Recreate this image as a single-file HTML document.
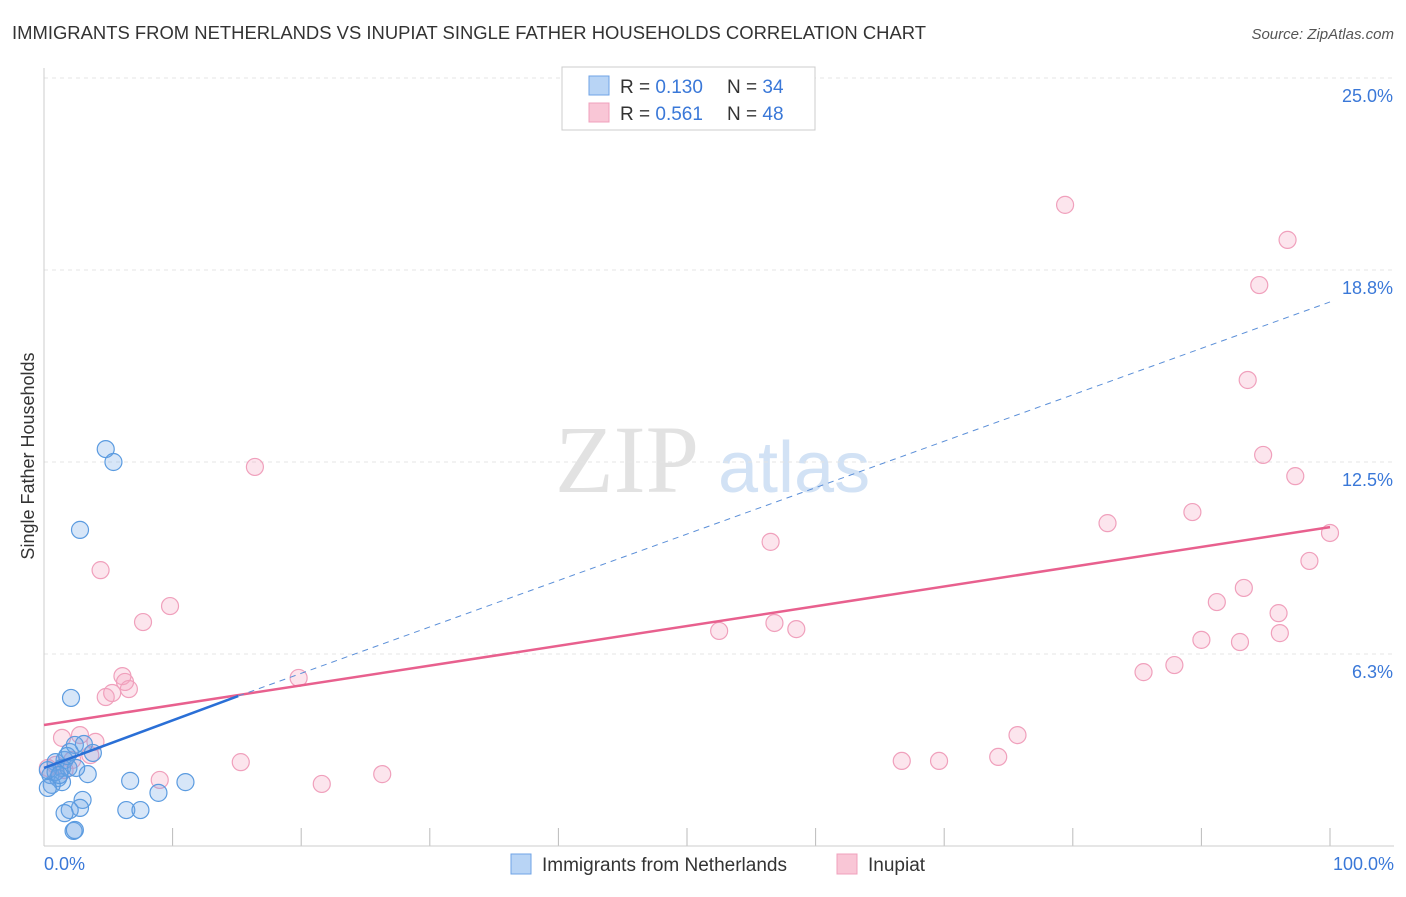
<!DOCTYPE html>
<html><head><meta charset="utf-8"><style>
body{margin:0;background:#fff;font-family:"Liberation Sans",sans-serif;}
</style></head><body>
<svg id="chart" width="1406" height="892" xmlns="http://www.w3.org/2000/svg">
<text x="12" y="39" font-size="18" fill="#333" textLength="914" lengthAdjust="spacingAndGlyphs">IMMIGRANTS FROM NETHERLANDS VS INUPIAT SINGLE FATHER HOUSEHOLDS CORRELATION CHART</text>
<text x="1394" y="39" font-size="15" fill="#555" font-style="italic" text-anchor="end">Source: ZipAtlas.com</text>
<text x="555" y="492" font-size="96" fill="#e2e2e2" font-family="Liberation Serif,serif">ZIP</text>
<text x="718" y="492" font-size="72" fill="#d2e2f5">atlas</text>
<g id="grid"></g>
<line x1="44" y1="68" x2="44" y2="846" stroke="#ccc"/>
<line x1="44" y1="846" x2="1394" y2="846" stroke="#ccc"/>
<text x="34" y="456" font-size="18" fill="#333" text-anchor="middle" transform="rotate(-90 34 456)">Single Father Households</text>
<text x="44" y="870" font-size="18" fill="#3a78d8">0.0%</text>
<text x="1394" y="870" font-size="18" fill="#3a78d8" text-anchor="end">100.0%</text>
<g id="pts"></g>
<g id="trends"></g>
<g>
<rect x="562" y="67" width="253" height="63" fill="#fff" stroke="#ccc"/>
<rect x="589" y="76" width="20" height="19" fill="#b8d4f5" stroke="#6fa3e6"/>
<rect x="589" y="103" width="20" height="19" fill="#f9c6d6" stroke="#f0a0bc"/>
<text x="620" y="93" font-size="19" fill="#333">R = <tspan fill="#3a78d8">0.130</tspan></text>
<text x="727" y="93" font-size="19" fill="#333">N = <tspan fill="#3a78d8">34</tspan></text>
<text x="620" y="120" font-size="19" fill="#333">R = <tspan fill="#3a78d8">0.561</tspan></text>
<text x="727" y="120" font-size="19" fill="#333">N = <tspan fill="#3a78d8">48</tspan></text>
</g>
<g>
<rect x="511" y="854" width="20" height="20" fill="#b8d4f5" stroke="#6fa3e6"/>
<text x="542" y="871" font-size="19" fill="#333">Immigrants from Netherlands</text>
<rect x="837" y="854" width="20" height="20" fill="#f9c6d6" stroke="#f0a0bc"/>
<text x="868" y="871" font-size="19" fill="#333">Inupiat</text>
</g>
</svg>
<script>
const yTicks=[6.25,12.5,18.75,25];
const yTickLabels=["6.3%","12.5%","18.8%","25.0%"];
const xTicks=[10,20,30,40,50,60,70,80,90,100];
const blueX=[4.8,5.4,2.8,2.1,1.6,0.9,2.0,1.4,2.4,3.1,3.8,0.5,1.1,1.4,0.6,0.3,1.9,3.4,6.7,11.0,8.9,3.0,2.8,2.0,1.6,6.4,7.5,2.3,2.4,0.9,0.3,1.2,2.5,1.8];
const blueY=[12.92,12.5,10.29,4.82,2.8,2.73,3.06,2.54,3.29,3.32,3.03,2.31,2.21,2.08,1.99,1.89,2.54,2.34,2.12,2.08,1.73,1.5,1.24,1.17,1.07,1.17,1.17,0.49,0.52,2.41,2.47,2.31,2.54,2.93];
const pinkX=[79.4,96.7,94.5,93.6,94.8,97.3,82.7,89.3,100,98.4,93.3,91.2,96.0,96.1,90.0,93.0,87.9,85.5,56.5,52.5,56.8,58.5,75.7,74.2,69.6,66.7,16.4,4.4,9.8,7.7,6.1,6.3,6.6,5.3,4.8,19.8,15.3,9.0,21.6,26.3,1.4,2.8,4.0,3.6,0.9,2.2,0.3,1.6];
const pinkY=[20.87,19.73,18.26,15.17,12.73,12.04,10.51,10.87,10.19,9.28,8.40,7.94,7.58,6.93,6.71,6.64,5.89,5.66,9.90,7.00,7.26,7.06,3.61,2.90,2.77,2.77,12.34,8.98,7.81,7.29,5.53,5.34,5.11,4.98,4.85,5.47,2.73,2.15,2.02,2.34,3.52,3.61,3.39,2.96,2.64,2.80,2.54,2.47];
const blueTrend=[[0,2.54],[15.1,4.88],[100,17.71]];
const pinkTrend=[[0,3.94],[100,10.38]];
const NS="http://www.w3.org/2000/svg";
const sx=v=>44+v*12.86;
const sy=v=>846-v*30.72;
function mk(t,a,p){const e=document.createElementNS(NS,t);for(const k in a)e.setAttribute(k,a[k]);p.appendChild(e);return e;}
const grid=document.getElementById('grid');
yTicks.forEach((t,i)=>{
 const l=mk('line',{x1:44,x2:1394,y1:sy(t),y2:sy(t),stroke:'#e4e4e4','stroke-dasharray':'4,4'},grid);
 
 
 const tx=mk('text',{x:1393,y:sy(t)+24,'font-size':18,fill:'#3a78d8','text-anchor':'end'},grid);
 tx.textContent=yTickLabels[i];
 
 
});
xTicks.forEach(t=>{
 const l=mk('line',{x1:sx(t),x2:sx(t),y1:828,y2:846,stroke:'#bbb'},grid);
 
 
});
const pts=document.getElementById('pts');
pinkX.forEach((x,i)=>{
 const c=mk('circle',{cx:sx(x),cy:sy(pinkY[i]),r:8.5,fill:'rgba(244,160,190,0.28)',stroke:'#f0a0bc','stroke-width':1.2},pts);
 
 
});
blueX.forEach((x,i)=>{
 const c=mk('circle',{cx:sx(x),cy:sy(blueY[i]),r:8.5,fill:'rgba(110,165,230,0.28)',stroke:'#5b9be0','stroke-width':1.2},pts);
 
 
});
const tr=document.getElementById('trends');
const pl=mk('line',{x1:sx(pinkTrend[0][0]),y1:sy(pinkTrend[0][1]),x2:sx(pinkTrend[1][0]),y2:sy(pinkTrend[1][1]),stroke:'#e8608e','stroke-width':2.5},tr);


const bl=mk('line',{x1:sx(blueTrend[0][0]),y1:sy(blueTrend[0][1]),x2:sx(blueTrend[1][0]),y2:sy(blueTrend[1][1]),stroke:'#2a6fd6','stroke-width':2.5},tr);


const bd=mk('line',{x1:sx(blueTrend[1][0]),y1:sy(blueTrend[1][1]),x2:sx(blueTrend[2][0]),y2:sy(blueTrend[2][1]),stroke:'#5b8fd8','stroke-width':1,'stroke-dasharray':'6,5'},tr);


</script>
</body></html>
